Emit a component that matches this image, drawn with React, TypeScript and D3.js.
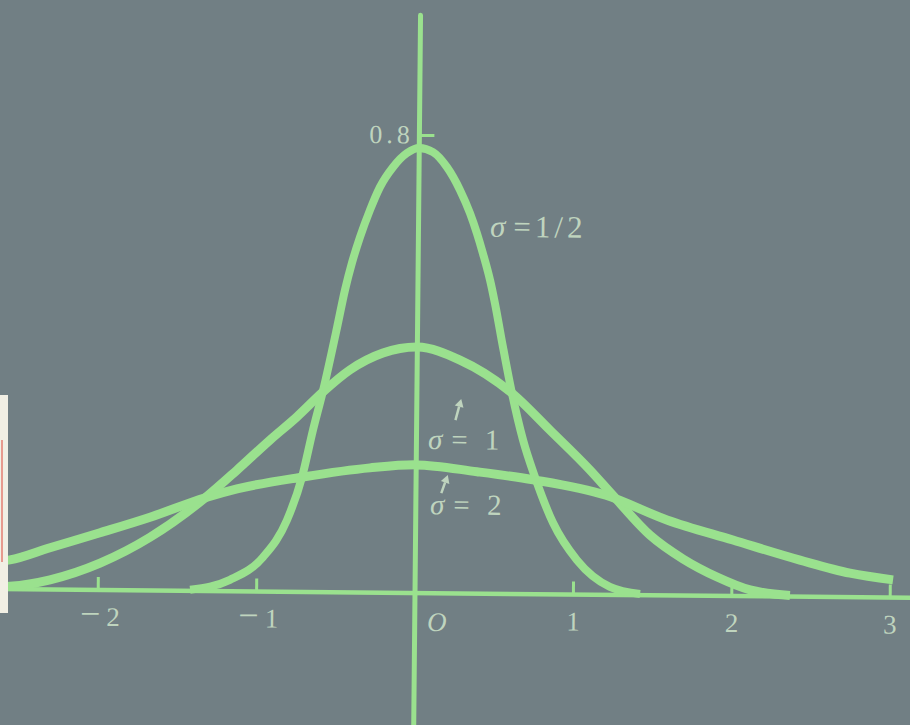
import React from 'react';
import * as d3 from 'd3';

// Curve samples (x in σ-units, y = density)
const sigmaHalfX = [-1.42, -1.169, -0.962, -0.813, -0.72, -0.654, -0.593, -0.508, -0.46, -0.418, -0.369, -0.307, -0.246, -0.165, -0.077, 0, 0.087, 0.176, 0.26, 0.324, 0.369, 0.408, 0.455, 0.487, 0.54, 0.6, 0.673, 0.75, 0.867, 1.021, 1.23, 1.421];
const sigmaHalfY = [0.002, 0.02, 0.06, 0.125, 0.201, 0.283, 0.352, 0.463, 0.529, 0.576, 0.621, 0.669, 0.709, 0.744, 0.769, 0.778, 0.771, 0.745, 0.705, 0.665, 0.63, 0.595, 0.548, 0.508, 0.432, 0.351, 0.269, 0.205, 0.125, 0.06, 0.014, 0.002];

const sigmaOneX = [-2.72, -2.557, -2.305, -1.99, -1.676, -1.33, -1.131, -0.925, -0.756, -0.593, -0.424, -0.217, 0, 0.27, 0.6, 0.842, 1.097, 1.24, 1.48, 1.69, 1.906, 2.115, 2.367];
const sigmaOneY = [0.003, 0.005, 0.017, 0.047, 0.093, 0.163, 0.212, 0.265, 0.306, 0.35, 0.389, 0.419, 0.43, 0.408, 0.351, 0.287, 0.218, 0.175, 0.105, 0.064, 0.033, 0.011, 0.002];

const sigmaTwoX = [-2.72, -2.559, -2.307, -1.992, -1.677, -1.33, -1.13, -0.714, -0.292, 0, 0.384, 0.738, 1.2, 1.586, 2.004, 2.428, 2.745, 3.017];
const sigmaTwoY = [0.046, 0.051, 0.073, 0.1, 0.128, 0.163, 0.179, 0.201, 0.218, 0.224, 0.213, 0.2, 0.174, 0.132, 0.098, 0.064, 0.042, 0.031];

const xTickValues = [-2, -1, 1, 2, 3];
const xTickSigns = ['\u2212', '\u2212', '', '', ''];
const xTickDigits = ['2', '1', '1', '2', '3'];
const originLabel = 'O';
const yTickValue = 0.8;
const yTickLabel = '0.8';
const curveLabelText = ['=1/2', '= 1', '= 2'];
const curveLabelPos = [[0.452, 0.624], [0.073, 0.252], [0.09, 0.138]];
const arrowPos = [[[0.245, 0.303], [0.28, 0.34]], [[0.16, 0.175], [0.2, 0.207]]];

const BG = '#717f84';
const GREEN = '#9ae18e';
const TEXT = '#bfd4be';

export default function App() {
  const W = 910, H = 725;
  const x = d3.scaleLinear().domain([0, 1]).range([415, 573.4]);
  const y = d3.scaleLinear().domain([0, 0.8]).range([593, 135.4]);
  const line = d3
    .line<[number, number]>()
    .x((d) => x(d[0]))
    .y((d) => y(d[1]))
    .curve(d3.curveMonotoneX);

  const series = [
    { xs: sigmaHalfX, ys: sigmaHalfY, w: 8 },
    { xs: sigmaOneX, ys: sigmaOneY, w: 9 },
    { xs: sigmaTwoX, ys: sigmaTwoY, w: 9 },
  ];

  const font = '"Liberation Serif", "DejaVu Serif", serif';

  return (
    <svg
      width={W}
      height={H}
      style={{ position: 'fixed', left: 0, top: 0, display: 'block' }}
    >
      <rect x={0} y={0} width={W} height={H} fill={BG} />
      <g transform={`rotate(0.55, ${x(0)}, ${y(0)})`}>
        {/* axes */}
        <line x1={x(-2.8)} x2={x(3.3)} y1={y(0)} y2={y(0)} stroke={GREEN} strokeWidth={4.5} />
        <line x1={x(0)} x2={x(0)} y1={y(1.01)} y2={y(-0.3)} stroke={GREEN} strokeWidth={5} strokeLinecap="round" />
        {xTickValues.map((v) => (
          <line key={'t' + v} x1={x(v)} x2={x(v)} y1={y(0)} y2={y(0) - 13} stroke={GREEN} strokeWidth={3} />
        ))}
        <line x1={x(0)} x2={x(0) + 15} y1={y(yTickValue)} y2={y(yTickValue)} stroke={GREEN} strokeWidth={3} />

        {/* curves */}
        {series.map((s, i) => (
          <path
            key={'c' + i}
            d={line(s.xs.map((v, j) => [v, s.ys[j]] as [number, number])) || ''}
            fill="none"
            stroke={GREEN}
            strokeWidth={s.w}
            strokeLinejoin="round"
            strokeLinecap="butt"
          />
        ))}

        {/* tick labels */}
        {xTickValues.map((v, i) => (
          <text
            key={'l' + v}
            x={x(v) + (xTickSigns[i] ? 2 : 0)}
            y={y(0) + 36}
            textAnchor="middle"
            fontFamily={font}
            fontSize={27}
            fill={TEXT}
          >
            {xTickSigns[i] ? (
              <>
                <tspan fontSize={36} fontWeight={300}>{xTickSigns[i]}</tspan>
                <tspan dx={6}>{xTickDigits[i]}</tspan>
              </>
            ) : (
              xTickDigits[i]
            )}
          </text>
        ))}
        <text x={x(0) + 22} y={y(0) + 38} textAnchor="middle" fontFamily={font} fontStyle="italic" fontSize={27} fill={TEXT}>
          {originLabel}
        </text>
        <text x={x(0) - 50} y={y(yTickValue) + 8} fontFamily={font} fontSize={26} letterSpacing={4} fill={TEXT}>
          {yTickLabel}
        </text>

        {/* curve labels */}
        {curveLabelText.map((t, i) => (
          <text
            key={'cl' + i}
            x={x(curveLabelPos[i][0])}
            y={y(curveLabelPos[i][1])}
            fontFamily={font}
            fontSize={i === 0 ? 31 : 29}
            letterSpacing={i === 0 ? 4 : 5}
            fill={TEXT}
          >
            <tspan fontStyle="italic">σ</tspan>
            <tspan dx={4}>{t}</tspan>
          </text>
        ))}
        {arrowPos.map((a, i) => {
          const x1 = x(a[0][0]), y1 = y(a[0][1]), x2 = x(a[1][0]), y2 = y(a[1][1]);
          const ang = Math.atan2(y2 - y1, x2 - x1);
          const hl = 8, hw = 4.5;
          const bx = x2 - hl * Math.cos(ang), by = y2 - hl * Math.sin(ang);
          const px = -Math.sin(ang) * hw, py = Math.cos(ang) * hw;
          return (
            <g key={'a' + i}>
              <line x1={x1} y1={y1} x2={bx} y2={by} stroke={TEXT} strokeWidth={2.5} />
              <path d={`M${x2},${y2}L${bx + px},${by + py}L${bx - px},${by - py}Z`} fill={TEXT} />
            </g>
          );
        })}
      </g>

      {/* page edge at the left */}
      <rect x={0} y={395} width={8} height={218} fill="#f1efe4" />
      <rect x={1} y={440} width={2} height={122} fill="#e79a8e" />
    </svg>
  );
}
